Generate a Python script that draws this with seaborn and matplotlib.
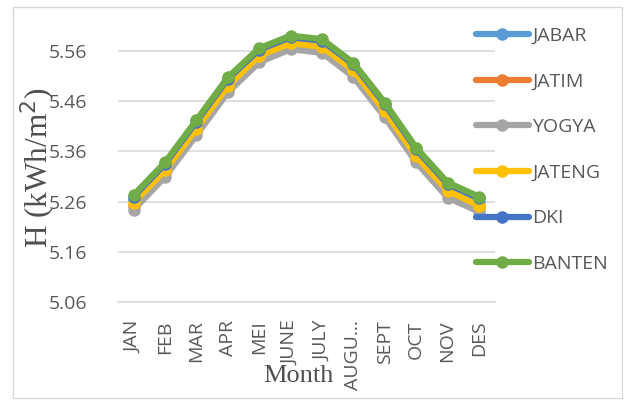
import numpy as np
import pandas as pd
import matplotlib
matplotlib.use("Agg")
import matplotlib.pyplot as plt
import seaborn as sns
from matplotlib.patches import Rectangle

# data
months = ["JAN", "FEB", "MAR", "APR", "MEI", "JUNE", "JULY", "AUGU\u2026",
          "SEPT", "OCT", "NOV", "DES"]
jabar = [5.264, 5.328, 5.412, 5.497, 5.556, 5.581, 5.574, 5.527, 5.447, 5.357, 5.288, 5.258]
jatim = [5.252, 5.316, 5.400, 5.484, 5.545, 5.572, 5.563, 5.515, 5.434, 5.344, 5.276, 5.247]
yogya = [5.244, 5.309, 5.392, 5.477, 5.537, 5.563, 5.556, 5.508, 5.428, 5.338, 5.268, 5.240]
jateng = [5.258, 5.322, 5.405, 5.490, 5.550, 5.575, 5.568, 5.521, 5.440, 5.350, 5.282, 5.252]
dki = [5.270, 5.335, 5.419, 5.504, 5.562, 5.587, 5.580, 5.533, 5.454, 5.364, 5.295, 5.267]
banten = [5.273, 5.338, 5.422, 5.507, 5.565, 5.590, 5.583, 5.536, 5.457, 5.367, 5.298, 5.270]

regions = ["JABAR", "JATIM", "YOGYA", "JATENG", "DKI", "BANTEN"]
series = [jabar, jatim, yogya, jateng, dki, banten]
colors = ["#5B9BD5", "#ED7D31", "#A5A5A5", "#FFC000", "#4472C4", "#70AD47"]
yticks = [5.06, 5.16, 5.26, 5.36, 5.46, 5.56]

rows = []
for reg, vals in zip(regions, series):
    for m, v in zip(months, vals):
        rows.append({"Month": m, "H": v, "Region": reg})
df = pd.DataFrame(rows)
df["Month"] = pd.Categorical(df["Month"], categories=months, ordered=True)
df["x"] = df["Month"].cat.codes

sns.set_theme(style="white")
plt.rcParams["font.family"] = ["Open Sans", "DejaVu Sans"]

fig = plt.figure(figsize=(6.27, 4.03), dpi=100)
ax = fig.add_axes([0.188, 0.25, 0.601, 0.699])

sns.lineplot(data=df, x="x", y="H", hue="Region", hue_order=regions,
             palette=colors, marker="o", markersize=9, markeredgewidth=0,
             linewidth=4.5, sort=False, ax=ax)

ax.set_xlim(-0.5, 11.5)
ax.set_ylim(5.06, 5.62)
ax.set_yticks(yticks)
ax.set_yticklabels([f"{t:.2f}" for t in yticks], fontsize=14, color="#595959")
ax.set_xticks(range(12))
ax.set_xticklabels(months, rotation=90, fontsize=14, color="#595959")
ax.set_xticks(np.arange(-0.5, 12, 1), minor=True)
ax.tick_params(axis="x", which="major", length=0, pad=13)
ax.tick_params(axis="x", which="minor", length=6, color="#d9d9d9", width=1)
ax.tick_params(axis="y", length=0, pad=22)
ax.yaxis.grid(True, color="#d9d9d9", linewidth=1.2)
ax.set_axisbelow(True)
for s in ["top", "right", "left"]:
    ax.spines[s].set_visible(False)
ax.spines["bottom"].set_color("#d9d9d9")
ax.spines["bottom"].set_linewidth(1.2)
ax.set_xlabel("")
ax.set_ylabel("")

leg = ax.legend(loc="upper left", bbox_to_anchor=(0.93, 1.005), frameon=False,
                fontsize=14, labelspacing=1.42, handlelength=2.7,
                handletextpad=0.18, borderaxespad=0)
for t in leg.get_texts():
    t.set_color("#595959")

fig.text(0.062, 0.585, "H (kWh/m$^2$)", rotation=90, ha="center", va="center",
         fontsize=22.5, family="Liberation Serif", color="#505050")
fig.text(0.476, 0.068, "Month", ha="center", va="center",
         fontsize=19, family="Liberation Serif", color="#505050")

fig.patches.append(Rectangle((0.021, 0.012), 0.971, 0.97, transform=fig.transFigure,
                             fill=False, edgecolor="#d9d9d9", linewidth=1))

fig.savefig("out.png", dpi=100)
